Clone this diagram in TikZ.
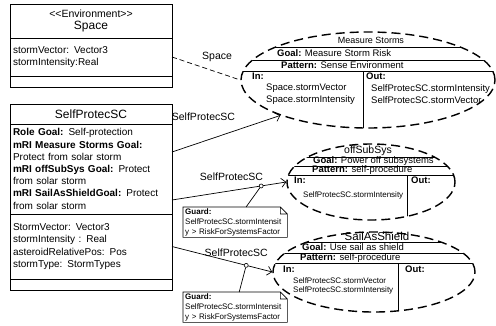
\documentclass[tikz,border=0pt]{standalone}
\usepackage{fontspec}
\setmainfont{Liberation Sans}
\usetikzlibrary{arrows.meta,positioning,calc,shapes.geometric}

\tikzset{
  classpart/.style={draw,line width=0.9pt,outer sep=0pt,inner xsep=3pt,inner ysep=0pt,
    text width=156pt,minimum height=#1,align=left,font=\fontsize{10}{12.2}\selectfont},
  usecase/.style={ellipse,draw,line width=1.4pt,dash pattern=on 9pt off 5pt,inner sep=0pt},
  ucline/.style={line width=0.8pt},
  uctext/.style={anchor=west,inner sep=0pt,align=left,font=\fontsize{9.5}{11.5}\selectfont},
  ucsmall/.style={anchor=west,inner sep=0pt,align=left,font=\fontsize{8}{8.5}\selectfont},
  assoc/.style={line width=0.7pt},
  arrowassoc/.style={assoc,-{Straight Barb[length=4.5pt,width=9pt]}},
  rolelabel/.style={inner sep=0pt,font=\fontsize{10.5}{12}\selectfont},
  guardpt/.style={circle,draw,fill=white,line width=0.6pt,inner sep=0pt,minimum size=4pt},
  guardnote/.style={anchor=north west,inner xsep=2pt,inner ysep=1pt,text width=100pt,
    minimum height=30pt,align=left,font=\fontsize{8}{10}\selectfont}
}

\begin{document}
\begin{tikzpicture}[x=1pt,y=-1pt]
  \useasboundingbox[fill=white] (0,0) rectangle (496,325);

  % Space class
  \node[classpart=34pt,anchor=north west,align=center] (spaceT) at (10,4)
    {{\fontsize{10.5}{13}\selectfont <\kern0pt<Environment>\kern0pt>}\\{\fontsize{12}{14}\selectfont Space}};
  \node[classpart=38pt,below=0pt of spaceT] (spaceA)
    {stormVector: Vector3\\stormIntensity:Real};
  \node[classpart=11pt,below=0pt of spaceA] (spaceO) {};

  % SelfProtecSC class
  \node[classpart=20pt,anchor=north west,align=center,font=\fontsize{12}{14}\selectfont] (selfT) at (10,104)
    {SelfProtecSC};
  \node[classpart=90pt,below=0pt of selfT] (selfG)
    {\textbf{Role Goal:} Self-protection\\
     \textbf{mRI Measure Storms Goal:}\\Protect from solar storm\\
     \textbf{mRI offSubSys Goal:} Protect\\from solar storm\\
     \textbf{mRI SailAsShieldGoal:} Protect\\from solar storm};
  \node[classpart=65pt,below=0pt of selfG] (selfA)
    {StormVector: Vector3\\stormIntensity : Real\\asteroidRelativePos: Pos\\stormType: StormTypes};
  \node[classpart=11pt,below=0pt of selfA] (selfO) {};

  % roles
  \node[usecase,minimum width=254pt,minimum height=96pt] (ms) at (368,80) {};
  \node[usecase,minimum width=168pt,minimum height=76pt] (os) at (371,182) {};
  \node[usecase,minimum width=202pt,minimum height=80pt] (ss) at (374,272) {};

  \node[inner sep=0pt,font=\fontsize{9}{10}\selectfont] (msT) at (371,40) {Measure Storms};
  \begin{scope}
    \clip (ms.center) ellipse [x radius=127,y radius=48];
    \draw[ucline] (230,47) -- (500,47) (230,60) -- (500,60) (230,71) -- (500,71) (363,71) -- (363,140);
    \node[uctext] at (277,53.5) {\textbf{Goal:} Measure Storm Risk};
    \node[uctext] at (281,65.5) {\textbf{Pattern:} Sense Environment};
    \node[uctext] at (252,76.5) {\textbf{In:}};
    \node[uctext] at (266,94) {Space.stormVector\\Space.stormIntensity};
    \node[uctext] at (366,76.5) {\textbf{Out:}};
    \node[uctext] at (371,94) {SelfProtecSC.stormIntensity\\SelfProtecSC.stormVector};
  \end{scope}

  \node[inner sep=0pt,font=\fontsize{10.5}{12}\selectfont] (osT) at (368,151) {offSubSys};
  \begin{scope}
    \clip (os.center) ellipse [x radius=84,y radius=38];
    \draw[ucline] (280,157) -- (460,157) (280,166) -- (460,166) (280,175) -- (460,175) (407,175) -- (407,225);
    \node[uctext] at (313,161.5) {\textbf{Goal:} Power off subsystems};
    \node[uctext] at (312,170.5) {\textbf{Pattern:} self-procedure};
    \node[uctext] at (294,180) {\textbf{In:}};
    \node[ucsmall] at (303,195) {SelfProtecSC.stormIntensity};
    \node[uctext] at (411,180) {\textbf{Out:}};
  \end{scope}

  \node[inner sep=0pt,font=\fontsize{11.5}{13}\selectfont] (ssT) at (377,236.5) {SailAsShield};
  \begin{scope}
    \clip (ss.center) ellipse [x radius=101,y radius=40];
    \draw[ucline] (260,242) -- (490,242) (260,253) -- (490,253) (260,263) -- (490,263) (398,263) -- (398,320);
    \node[uctext] at (302,247.5) {\textbf{Goal:} Use sail as shield};
    \node[uctext] at (300,258) {\textbf{Pattern:} self-procedure};
    \node[uctext] at (283,269) {\textbf{In:}};
    \node[ucsmall] at (293,286) {SelfProtecSC.stormVector\\SelfProtecSC.stormIntensity};
    \node[uctext] at (405,269) {\textbf{Out:}};
  \end{scope}

  % guards
  \node[guardnote] (guard1) at (183,207)
    {\textbf{Guard:}\\SelfProtecSC.stormIntensit\\y > RiskForSystemsFactor};
  \node[guardnote] (guard2) at (183,292)
    {\textbf{Guard:}\\SelfProtecSC.stormIntensit\\y > RiskForSystemsFactor};
  \foreach \g in {guard1,guard2}
    \draw[line width=0.6pt] (\g.north west) -- ($(\g.north east)+(-7,0)$) -- ($(\g.north east)+(0,7)$)
      -- (\g.south east) -- (\g.south west) -- cycle
      ($(\g.north east)+(-7,0)$) |- ($(\g.north east)+(0,7)$);

  % associations
  \draw[assoc,dash pattern=on 5pt off 3pt] (spaceA.east) -- node[rolelabel,pos=.66,above=10pt] {Space} (ms.west);
  \draw[arrowassoc] ($(selfG.east)+(0,-17)$) -- node[rolelabel,pos=.29,above=20pt] {SelfProtecSC} (ms.202);
  \draw[arrowassoc] ($(selfG.east)+(0,31)$) -- node[rolelabel,pos=.52,above=10pt] {SelfProtecSC}
    node[guardpt,pos=.78] (gp1) {} (os.west);
  \draw[arrowassoc] (selfA.east) -- node[rolelabel,pos=.64,above=6pt] {SelfProtecSC}
    node[guardpt,pos=.74] (gp2) {} (ss.west);
  \draw[assoc] (gp1) -- (guard1);
  \draw[assoc] (gp2) -- (guard2);
\end{tikzpicture}
\end{document}
